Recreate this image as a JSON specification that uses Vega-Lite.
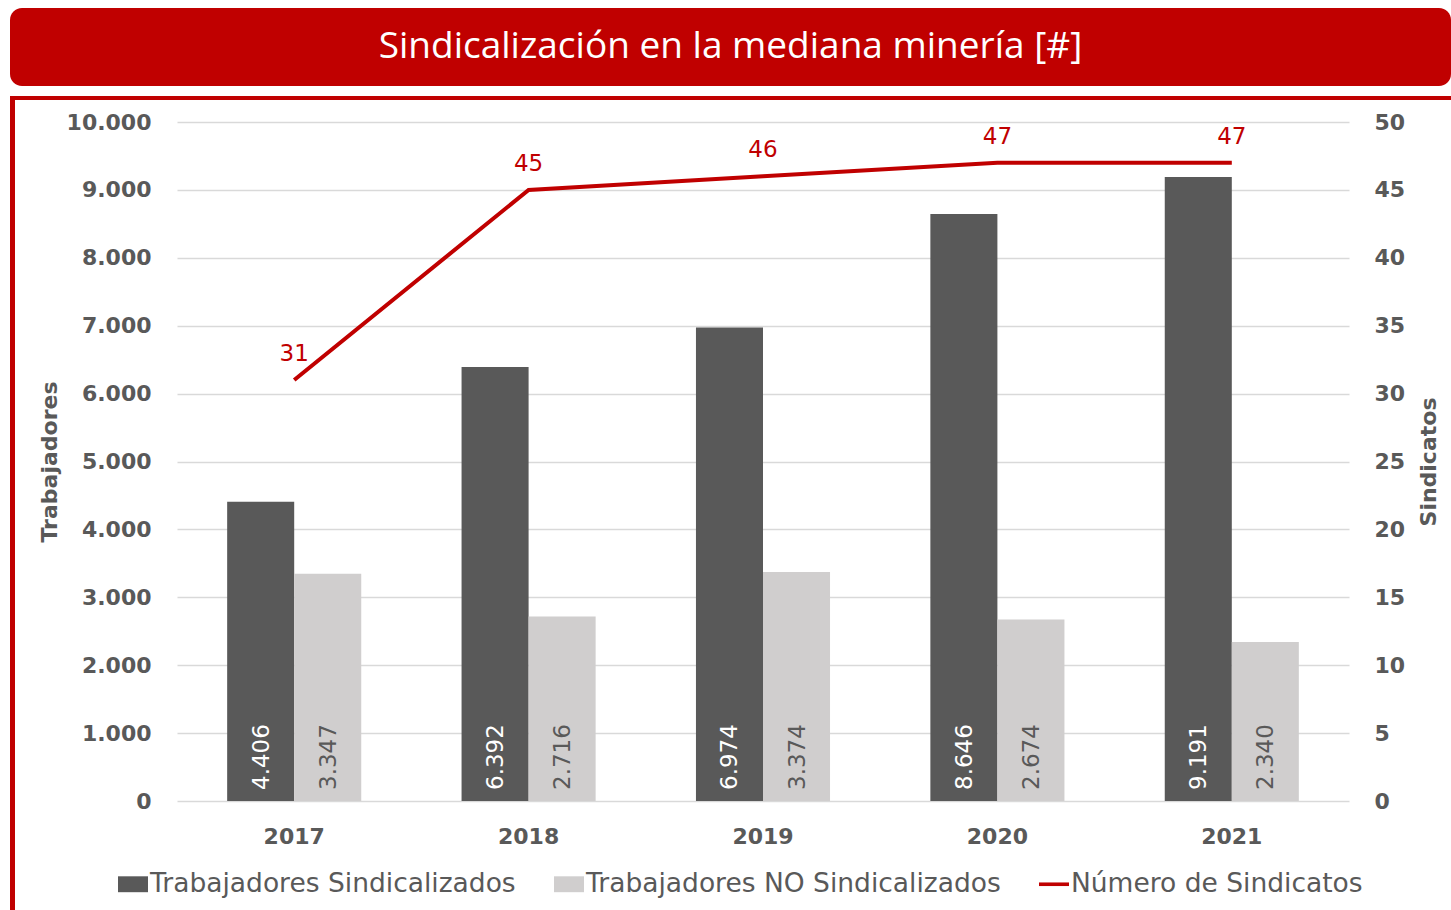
{
  "$schema": "https://vega.github.io/schema/vega-lite/v6.json",
  "padding": {"left": 10, "top": 8, "right": 0, "bottom": 0},
  "background": "white",
  "config": {
    "locale": {"number": {"decimal": ",", "thousands": ".", "grouping": [3], "currency": ["$", ""]}},
    "view": {"stroke": null},
    "font": "DejaVu Sans"
  },
  "spacing": 10,
  "vconcat": [
    {
      "width": 1441,
      "height": 78,
      "view": {"fill": "#c00000", "stroke": null, "cornerRadius": 12},
      "data": {"values": [{"t": "Sindicalización en la mediana minería [#]"}]},
      "mark": {"type": "text", "font": "Open Sans", "fontSize": 37, "color": "white"},
      "encoding": {"text": {"field": "t"}}
    },
    {
      "spacing": 0,
      "vconcat": [
        {
          "width": 1441,
          "height": 4,
          "view": {"fill": "#c00000", "stroke": null},
          "data": {"values": []},
          "mark": "rect",
          "encoding": {}
        },
        {
          "spacing": 23,
          "hconcat": [
            {
              "width": 5,
              "height": 810,
              "view": {"fill": "#c00000", "stroke": null},
              "data": {"values": []},
              "mark": "rect",
              "encoding": {}
            },
            {
              "spacing": 10,
              "vconcat": [
                {
                  "width": 1,
                  "height": 1,
                  "data": {"values": []},
                  "mark": "rect",
                  "encoding": {}
                },
                {
                  "width": 1172,
                  "height": 679,
                  "layer": [
                    {
                      "data": {"values": [
                        {"year": "2017", "series": "Trabajadores Sindicalizados", "value": 4406},
                        {"year": "2017", "series": "Trabajadores NO Sindicalizados", "value": 3347},
                        {"year": "2018", "series": "Trabajadores Sindicalizados", "value": 6392},
                        {"year": "2018", "series": "Trabajadores NO Sindicalizados", "value": 2716},
                        {"year": "2019", "series": "Trabajadores Sindicalizados", "value": 6974},
                        {"year": "2019", "series": "Trabajadores NO Sindicalizados", "value": 3374},
                        {"year": "2020", "series": "Trabajadores Sindicalizados", "value": 8646},
                        {"year": "2020", "series": "Trabajadores NO Sindicalizados", "value": 2674},
                        {"year": "2021", "series": "Trabajadores Sindicalizados", "value": 9191},
                        {"year": "2021", "series": "Trabajadores NO Sindicalizados", "value": 2340}
                      ]},
                      "layer": [
                        {
                          "mark": {"type": "bar"},
                          "encoding": {
                            "x": {
                              "field": "year", "type": "nominal",
                              "scale": {"paddingInner": 0.428, "paddingOuter": 0.214},
                              "axis": {"title": null, "labelAngle": 0, "labelFontSize": 22, "labelFontWeight": "bold", "labelColor": "#595959", "labelPadding": 25, "ticks": false, "domain": false, "grid": false}
                            },
                            "xOffset": {"field": "series", "type": "nominal", "scale": {"domain": ["Trabajadores Sindicalizados", "Trabajadores NO Sindicalizados"]}},
                            "y": {
                              "field": "value", "type": "quantitative",
                              "scale": {"domain": [0, 10000]},
                              "axis": {"orient": "left", "title": "Trabajadores", "titleFontSize": 22, "titleFontWeight": "bold", "titleColor": "#595959", "titlePadding": 5, "labelFontSize": 22, "labelFontWeight": "bold", "labelColor": "#595959", "labelPadding": 26, "ticks": false, "domain": false, "grid": true, "gridColor": "#d9d9d9", "gridWidth": 1.3, "values": [0, 1000, 2000, 3000, 4000, 5000, 6000, 7000, 8000, 9000, 10000], "format": ",d"}
                            },
                            "color": {
                              "field": "series", "type": "nominal",
                              "scale": {"domain": ["Trabajadores Sindicalizados", "Trabajadores NO Sindicalizados", "Número de Sindicatos"], "range": ["#595959", "#d0cece", "#c00000"]},
                              "legend": {
                                "orient": "none", "legendX": 108, "legendY": 861, "direction": "horizontal", "title": null,
                                "labelFontSize": 26.5, "labelColor": "#595959", "labelLimit": 600, "labelOffset": 2, "columnPadding": 38,
                                "symbolSize": 900, "padding": 0,
                                "encode": {"symbols": {"update": {
                                  "shape": {"signal": "datum.value === 'Número de Sindicatos' ? 'M-1,-0.12H1V0.12H-1Z' : 'M-1,-0.53H1V0.53H-1Z'"},
                                  "fill": {"scale": "color", "field": "value"},
                                  "strokeWidth": {"value": 0},
                                  "opacity": {"value": 1}
                                }}}
                              }
                            }
                          }
                        },
                        {
                          "mark": {"type": "text", "angle": 270, "align": "left", "baseline": "middle", "dx": 11, "dy": 1, "fontSize": 23},
                          "encoding": {
                            "x": {"field": "year", "type": "nominal"},
                            "xOffset": {"field": "series", "type": "nominal"},
                            "y": {"datum": 0},
                            "text": {"field": "value", "type": "quantitative", "format": ",d"},
                            "color": {"condition": {"test": "datum.series === 'Trabajadores Sindicalizados'", "value": "white"}, "value": "#595959"}
                          }
                        }
                      ]
                    },
                    {
                      "data": {"values": [
                        {"year": "2017", "n": 31},
                        {"year": "2018", "n": 45},
                        {"year": "2019", "n": 46},
                        {"year": "2020", "n": 47},
                        {"year": "2021", "n": 47}
                      ]},
                      "layer": [
                        {
                          "mark": {"type": "line", "strokeWidth": 4},
                          "encoding": {
                            "x": {"field": "year", "type": "nominal"},
                            "y": {
                              "field": "n", "type": "quantitative",
                              "scale": {"domain": [0, 50]},
                              "axis": {"orient": "right", "title": "Sindicatos", "titleAngle": 270, "titleBaseline": "top", "titleFontSize": 22, "titleFontWeight": "bold", "titleColor": "#595959", "titlePadding": 14, "labelFontSize": 22, "labelFontWeight": "bold", "labelColor": "#595959", "labelPadding": 25, "ticks": false, "domain": false, "grid": false, "values": [0, 5, 10, 15, 20, 25, 30, 35, 40, 45, 50]}
                            },
                            "color": {"datum": "Número de Sindicatos", "type": "nominal"}
                          }
                        },
                        {
                          "mark": {"type": "text", "dy": -26, "fontSize": 23, "color": "#c00000", "baseline": "middle"},
                          "encoding": {
                            "x": {"field": "year", "type": "nominal"},
                            "y": {"field": "n", "type": "quantitative"},
                            "text": {"field": "n", "type": "quantitative"}
                          }
                        }
                      ]
                    }
                  ],
                  "resolve": {"scale": {"y": "independent"}}
                }
              ]
            }
          ]
        }
      ]
    }
  ]
}
